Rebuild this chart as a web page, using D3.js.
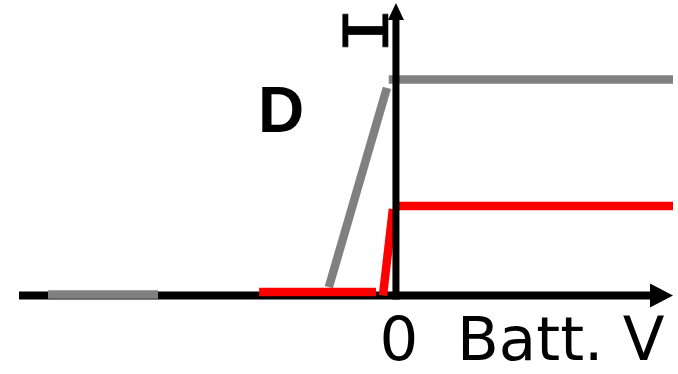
<!DOCTYPE html>
<html>
<head>
<meta charset="utf-8">
<script src="https://cdn.jsdelivr.net/npm/d3@7"></script>
<style>
  html, body { margin: 0; padding: 0; background: #fff; }
  svg { display: block; }
</style>
</head>
<body>
<svg id="chart" width="678" height="374"></svg>
<script>
// ---- data (x in battery-voltage units, y in normalised current units) ----
const xDomain = [-10, 7.35];
const yDomain = [0, 1.354];

const graySegments = [
  [[-9.23, 0.005], [-6.31, 0.005]],
  [[-1.78, 0.039], [-0.24, 0.961]],
  [[-0.19, 1.0], [7.35, 1.0]]
];
const redSegments = [
  [[-3.63, 0.016], [-0.53, 0.016]],
  [[-0.345, 0.0], [-0.08, 0.40]],
  [[0.08, 0.414], [7.35, 0.414]]
];
const originLabel = "0";
const xAxisLabel = "Batt. V";
const yAxisLabel = "I";
const seriesLabel = "D";

// ---- layout ----
const svg = d3.select("#chart");
const x = d3.scaleLinear().domain(xDomain).range([19, 673]);
const y = d3.scaleLinear().domain(yDomain).range([295.5, 3]);
const line = d3.line().x(d => x(d[0])).y(d => y(d[1]));

// x axis (drawn under the series)
const xArrowLen = 23, xArrowHalf = 12;
svg.append("line")
  .attr("x1", x(xDomain[0])).attr("x2", x(xDomain[1]) - xArrowLen + 1)
  .attr("y1", y(0)).attr("y2", y(0))
  .attr("stroke", "#000").attr("stroke-width", 8);
svg.append("path")
  .attr("d", `M${x(xDomain[1])},${y(0)} L${x(xDomain[1]) - xArrowLen},${y(0) - xArrowHalf} L${x(xDomain[1]) - xArrowLen},${y(0) + xArrowHalf} Z`)
  .attr("fill", "#000");

// series
svg.append("g").selectAll("path").data(graySegments).join("path")
  .attr("d", line).attr("fill", "none")
  .attr("stroke", "#808080").attr("stroke-width", 8.5);
svg.append("g").selectAll("path").data(redSegments).join("path")
  .attr("d", line).attr("fill", "none")
  .attr("stroke", "#ff0000").attr("stroke-width", 8.5);

// y axis (drawn over the series)
const yArrowLen = 17, yArrowHalf = 8;
svg.append("line")
  .attr("x1", x(0)).attr("x2", x(0))
  .attr("y1", y(0) + 4).attr("y2", y(yDomain[1]) + yArrowLen - 1)
  .attr("stroke", "#000").attr("stroke-width", 7);
svg.append("path")
  .attr("d", `M${x(0)},${y(yDomain[1])} L${x(0) - yArrowHalf},${y(yDomain[1]) + yArrowLen} L${x(0) + yArrowHalf},${y(yDomain[1]) + yArrowLen} Z`)
  .attr("fill", "#000");

// labels
svg.append("text")
  .attr("x", 258).attr("y", 132)
  .attr("font-family", "'Liberation Sans', Arial, sans-serif")
  .attr("font-weight", "bold").attr("font-size", 64)
  .text(seriesLabel);

svg.append("text")
  .attr("transform", "translate(365,30.5) rotate(-90) scale(1.3,1)")
  .attr("text-anchor", "middle").attr("y", 22.5)
  .attr("font-family", "'DejaVu Sans Mono', monospace")
  .attr("font-size", 62)
  .attr("stroke", "#000").attr("stroke-width", 0.6).attr("stroke-linejoin", "round")
  .text(yAxisLabel);

svg.append("text")
  .attr("x", x(0) + 3).attr("y", 359.5)
  .attr("text-anchor", "middle")
  .attr("font-family", "'DejaVu Sans', sans-serif")
  .attr("font-size", 61)
  .text(originLabel);

svg.append("text")
  .attr("x", 457).attr("y", 359.5)
  .attr("font-family", "'DejaVu Sans', sans-serif")
  .attr("font-size", 61)
  .text(xAxisLabel);
</script>
</body>
</html>
